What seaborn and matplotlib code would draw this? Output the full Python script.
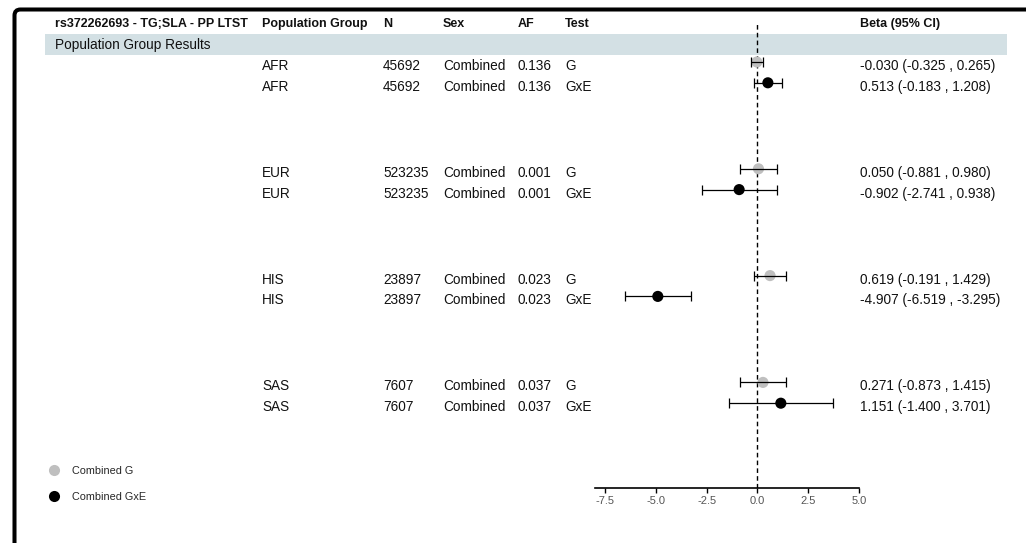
import numpy as np
import pandas as pd
import matplotlib
matplotlib.use("Agg")
import matplotlib.pyplot as plt
import matplotlib.transforms as mtransforms
from matplotlib.patches import Rectangle, FancyBboxPatch
from matplotlib.lines import Line2D
import seaborn as sns

# ---------------- data ----------------
title = "rs372262693 - TG;SLA - PP LTST"
groups = ["AFR", "EUR", "HIS", "SAS"]
n_values = ["45692", "523235", "23897", "7607"]
af_values = ["0.136", "0.001", "0.023", "0.037"]
sex = "Combined"
tests = ["G", "GxE"]
beta_g = [-0.030, 0.050, 0.619, 0.271]
lo_g = [-0.325, -0.881, -0.191, -0.873]
hi_g = [0.265, 0.980, 1.429, 1.415]
beta_gxe = [0.513, -0.902, -4.907, 1.151]
lo_gxe = [-0.183, -2.741, -6.519, -1.400]
hi_gxe = [1.208, 0.938, -3.295, 3.701]
xticks = [-7.5, -5.0, -2.5, 0.0, 2.5, 5.0]
headers = ["Population Group", "N", "Sex", "AF", "Test", "Beta (95% CI)"]

# ---------------- layout ----------------
W, H = 1026, 543
sns.set_theme(style="white")
plt.rcParams["font.family"] = ["Liberation Sans", "DejaVu Sans"]

fig = plt.figure(figsize=(W / 100, H / 100), dpi=100)
ax_left, ax_right, ax_top, ax_bot = 595, 859, 23, 488
ax = fig.add_axes([ax_left / W, 1 - ax_bot / H, (ax_right - ax_left) / W, (ax_bot - ax_top) / H])

group_step, row_step, first_row = 106.8, 20.8, 62

rows = []
for gi, g in enumerate(groups):
    for ti, t in enumerate(tests):
        b, lo, hi = ((beta_g[gi], lo_g[gi], hi_g[gi]) if t == "G"
                     else (beta_gxe[gi], lo_gxe[gi], hi_gxe[gi]))
        rows.append(dict(group=g, n=n_values[gi], af=af_values[gi], test=t,
                         label=f"{sex} {t}", beta=b, lo=lo, hi=hi,
                         ypos=first_row + gi * group_step + ti * row_step))
df = pd.DataFrame(rows)

palette = {"Combined G": "#bfbfbf", "Combined GxE": "#000000"}
sns.scatterplot(data=df, x="beta", y="ypos", hue="label", palette=palette,
                s=64, edgecolor="none", linewidth=0, legend=False, ax=ax, zorder=2)
ax.errorbar(df["beta"], df["ypos"],
            xerr=[df["beta"] - df["lo"], df["hi"] - df["beta"]],
            fmt="none", ecolor="black", elinewidth=0.9, capsize=3.5, capthick=0.9, zorder=3)
ax.axvline(0, color="black", lw=1.0, dashes=(3.3, 2.3), zorder=1)

ax.set_xlim(-8, 5)
ax.set_ylim(ax_bot, ax_top)
ax.set_xticks(xticks)
ax.set_xticklabels([f"{v:.1f}" for v in xticks])
ax.set_yticks([])
ax.set_xlabel("")
ax.set_ylabel("")
for s in ["left", "top", "right"]:
    ax.spines[s].set_visible(False)
ax.spines["bottom"].set_color("black")
ax.spines["bottom"].set_linewidth(1.2)
ax.tick_params(axis="x", direction="out", length=3.6, width=1.0, color="black",
               labelsize=8, labelcolor="#555555", pad=2, bottom=True)
ax.patch.set_alpha(0)

# ---------------- table text ----------------
trans = mtransforms.blended_transform_factory(fig.transFigure, ax.transData)
col_x = {"Population Group": 262, "N": 383, "Sex": 443, "AF": 518, "Test": 565,
         "Beta (95% CI)": 860}
reg_kw = dict(fontsize=9.8, color="#111111", va="center", ha="left")
bold_kw = dict(fontsize=9, color="#111111", va="center", ha="left", fontweight="bold")


def fy(y):
    return 1 - y / H


fig.text(55 / W, fy(24), title, **bold_kw)
for h in headers:
    fig.text(col_x[h] / W, fy(24), h, **bold_kw)

# band
fig.add_artist(Rectangle((45 / W, fy(55)), (1007 - 45) / W, 21 / H,
                         transform=fig.transFigure, facecolor="#d3e0e4",
                         edgecolor="none", zorder=0))
fig.text(55 / W, fy(45), "Population Group Results", **reg_kw)

text_offset = 4
for _, r in df.iterrows():
    y = r["ypos"] + text_offset
    ax.text(col_x["Population Group"] / W, y, r["group"], transform=trans, clip_on=False, **reg_kw)
    ax.text(col_x["N"] / W, y, r["n"], transform=trans, clip_on=False, **reg_kw)
    ax.text(col_x["Sex"] / W, y, sex, transform=trans, clip_on=False, **reg_kw)
    ax.text(col_x["AF"] / W, y, r["af"], transform=trans, clip_on=False, **reg_kw)
    ax.text(col_x["Test"] / W, y, r["test"], transform=trans, clip_on=False, **reg_kw)
    ax.text(col_x["Beta (95% CI)"] / W, y,
            f"{r['beta']:.3f} ({r['lo']:.3f} , {r['hi']:.3f})",
            transform=trans, clip_on=False, **reg_kw)

# ---------------- legend ----------------
handles = [Line2D([], [], marker="o", linestyle="none", markersize=8,
                  markerfacecolor=palette[k], markeredgecolor="none", label=k)
           for k in palette]
fig.legend(handles=handles, loc="upper left", bbox_to_anchor=(49 / W, fy(466)),
           frameon=False, fontsize=7.8, handlelength=1.0, handletextpad=1.1,
           labelspacing=1.45, borderpad=0, borderaxespad=0)

# ---------------- frame ----------------
fig.add_artist(FancyBboxPatch((14.5, -30), 1200, H - 9.5 + 30,
                              boxstyle="round,pad=0,rounding_size=6",
                              transform=mtransforms.IdentityTransform(),
                              facecolor="none", edgecolor="black", lw=2.9, zorder=10))

fig.savefig("out.png", dpi=100)
